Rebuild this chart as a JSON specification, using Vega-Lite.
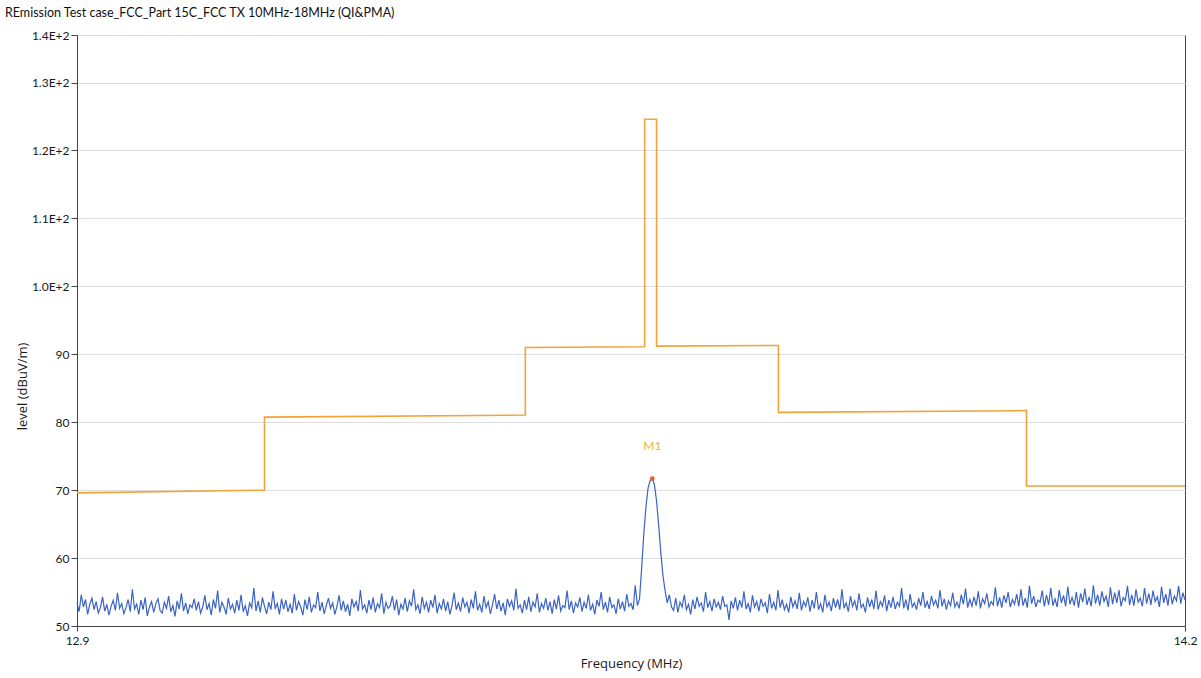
{
  "$schema": "https://vega.github.io/schema/vega-lite/v6.json",
  "width": 1108,
  "height": 591,
  "autosize": "none",
  "padding": {"left": 77, "top": 35, "right": 16, "bottom": 52},
  "background": "white",
  "config": {
    "font": "Lato",
    "view": {"stroke": "#444", "strokeWidth": 1},
    "axis": {"labelFont": "Lato", "labelFontSize": 12, "labelColor": "#1a1a1a", "titleFont": "Open Sans", "titleFontSize": 13, "titleFontWeight": "normal", "titleColor": "#1a1a1a", "domainColor": "#444", "tickColor": "#444"}
  },
  "title": {"text": "REmission Test case_FCC_Part 15C_FCC TX 10MHz-18MHz (QI&PMA)", "anchor": "start", "frame": "group", "dx": -72, "offset": 10, "font": "Lato", "fontSize": 12.5, "fontWeight": "normal", "color": "#111"},
  "datasets": {
    "limit": [
      {"i": 0, "f": 12.9, "v": 69.6},
      {"i": 1, "f": 13.12, "v": 70.0},
      {"i": 2, "f": 13.12, "v": 80.75},
      {"i": 3, "f": 13.426, "v": 81.05},
      {"i": 4, "f": 13.426, "v": 91.0},
      {"i": 5, "f": 13.566, "v": 91.1},
      {"i": 6, "f": 13.566, "v": 124.6},
      {"i": 7, "f": 13.58, "v": 124.6},
      {"i": 8, "f": 13.58, "v": 91.2},
      {"i": 9, "f": 13.723, "v": 91.3},
      {"i": 10, "f": 13.723, "v": 81.45},
      {"i": 11, "f": 14.014, "v": 81.7},
      {"i": 12, "f": 14.014, "v": 70.6},
      {"i": 13, "f": 14.2, "v": 70.6}
    ],
    "marker": [{"f": 13.575, "v": 71.7, "t": "M1"}],
    "trace": [
{"f":12.9,"v":53.4},{"f":12.9025,"v":52.1},{"f":12.905,"v":54.6},{"f":12.9075,"v":52.8},{"f":12.91,"v":53.9},{"f":12.9125,"v":51.7},{"f":12.915,"v":53.2},{"f":12.9175,"v":54.1},{"f":12.92,"v":52.4},{"f":12.9225,"v":53.6},{"f":12.925,"v":51.9},{"f":12.9275,"v":52.7},{"f":12.93,"v":54.3},{"f":12.9325,"v":52.2},{"f":12.935,"v":53.1},{"f":12.9375,"v":51.6},{"f":12.94,"v":52.9},{"f":12.9425,"v":53.8},{"f":12.945,"v":52.3},{"f":12.9475,"v":54.9},
{"f":12.95,"v":52.6},{"f":12.9525,"v":53.3},{"f":12.955,"v":51.8},{"f":12.9575,"v":52.7},{"f":12.96,"v":53.9},{"f":12.9625,"v":52.1},{"f":12.965,"v":55.4},{"f":12.9675,"v":52.5},{"f":12.97,"v":53.2},{"f":12.9725,"v":51.7},{"f":12.975,"v":53.8},{"f":12.9775,"v":52.4},{"f":12.98,"v":54.2},{"f":12.9825,"v":51.5},{"f":12.985,"v":52.8},{"f":12.9875,"v":53.6},{"f":12.99,"v":52.0},{"f":12.9925,"v":53.3},{"f":12.995,"v":54.0},{"f":12.9975,"v":52.3},
{"f":13.0,"v":51.9},{"f":13.0025,"v":53.5},{"f":13.005,"v":52.6},{"f":13.0075,"v":54.4},{"f":13.01,"v":52.1},{"f":13.0125,"v":53.0},{"f":13.015,"v":51.4},{"f":13.0175,"v":53.7},{"f":13.02,"v":52.5},{"f":13.0225,"v":54.8},{"f":13.025,"v":52.2},{"f":13.0275,"v":53.4},{"f":13.03,"v":51.8},{"f":13.0325,"v":53.1},{"f":13.035,"v":52.7},{"f":13.0375,"v":54.0},{"f":13.04,"v":52.3},{"f":13.0425,"v":53.6},{"f":13.045,"v":51.9},{"f":13.0475,"v":52.8},
{"f":13.05,"v":54.5},{"f":13.0525,"v":52.4},{"f":13.055,"v":53.3},{"f":13.0575,"v":51.6},{"f":13.06,"v":53.9},{"f":13.0625,"v":52.6},{"f":13.065,"v":55.2},{"f":13.0675,"v":52.0},{"f":13.07,"v":53.5},{"f":13.0725,"v":52.8},{"f":13.075,"v":51.7},{"f":13.0775,"v":54.1},{"f":13.08,"v":52.5},{"f":13.0825,"v":53.2},{"f":13.085,"v":51.9},{"f":13.0875,"v":53.8},{"f":13.09,"v":52.3},{"f":13.0925,"v":54.6},{"f":13.095,"v":52.1},{"f":13.0975,"v":53.0},
{"f":13.1,"v":51.5},{"f":13.1025,"v":53.4},{"f":13.105,"v":52.7},{"f":13.1075,"v":55.6},{"f":13.11,"v":52.2},{"f":13.1125,"v":53.7},{"f":13.115,"v":52.0},{"f":13.1175,"v":54.2},{"f":13.12,"v":52.9},{"f":13.1225,"v":51.8},{"f":13.125,"v":53.5},{"f":13.1275,"v":52.4},{"f":13.13,"v":55.1},{"f":13.1325,"v":52.6},{"f":13.135,"v":53.3},{"f":13.1375,"v":51.7},{"f":13.14,"v":54.0},{"f":13.1425,"v":52.5},{"f":13.145,"v":53.8},{"f":13.1475,"v":52.1},
{"f":13.15,"v":53.2},{"f":13.1525,"v":51.9},{"f":13.155,"v":54.7},{"f":13.1575,"v":52.3},{"f":13.16,"v":53.6},{"f":13.1625,"v":52.8},{"f":13.165,"v":51.6},{"f":13.1675,"v":53.9},{"f":13.17,"v":52.4},{"f":13.1725,"v":54.3},{"f":13.175,"v":52.0},{"f":13.1775,"v":53.1},{"f":13.18,"v":52.7},{"f":13.1825,"v":55.0},{"f":13.185,"v":52.2},{"f":13.1875,"v":53.5},{"f":13.19,"v":51.8},{"f":13.1925,"v":53.0},{"f":13.195,"v":54.1},{"f":13.1975,"v":52.6},
{"f":13.2,"v":53.4},{"f":13.2025,"v":51.7},{"f":13.205,"v":52.9},{"f":13.2075,"v":54.5},{"f":13.21,"v":52.3},{"f":13.2125,"v":53.7},{"f":13.215,"v":52.1},{"f":13.2175,"v":53.2},{"f":13.22,"v":51.5},{"f":13.2225,"v":54.0},{"f":13.225,"v":52.8},{"f":13.2275,"v":53.6},{"f":13.23,"v":52.2},{"f":13.2325,"v":55.3},{"f":13.235,"v":52.5},{"f":13.2375,"v":53.1},{"f":13.24,"v":51.9},{"f":13.2425,"v":53.8},{"f":13.245,"v":52.4},{"f":13.2475,"v":54.2},
{"f":13.25,"v":52.0},{"f":13.2525,"v":53.3},{"f":13.255,"v":52.7},{"f":13.2575,"v":54.8},{"f":13.26,"v":51.8},{"f":13.2625,"v":53.5},{"f":13.265,"v":52.6},{"f":13.2675,"v":53.0},{"f":13.27,"v":54.4},{"f":13.2725,"v":52.3},{"f":13.275,"v":53.9},{"f":13.2775,"v":51.6},{"f":13.28,"v":53.2},{"f":13.2825,"v":52.5},{"f":13.285,"v":54.1},{"f":13.2875,"v":52.1},{"f":13.29,"v":53.7},{"f":13.2925,"v":52.9},{"f":13.295,"v":55.4},{"f":13.2975,"v":52.4},
{"f":13.3,"v":53.1},{"f":13.3025,"v":51.8},{"f":13.305,"v":54.3},{"f":13.3075,"v":52.6},{"f":13.31,"v":53.5},{"f":13.3125,"v":52.0},{"f":13.315,"v":53.8},{"f":13.3175,"v":52.7},{"f":13.32,"v":54.6},{"f":13.3225,"v":51.9},{"f":13.325,"v":53.3},{"f":13.3275,"v":52.5},{"f":13.33,"v":54.0},{"f":13.3325,"v":52.2},{"f":13.335,"v":53.6},{"f":13.3375,"v":51.7},{"f":13.34,"v":53.0},{"f":13.3425,"v":54.9},{"f":13.345,"v":52.4},{"f":13.3475,"v":53.4},
{"f":13.35,"v":52.1},{"f":13.3525,"v":54.2},{"f":13.355,"v":52.8},{"f":13.3575,"v":53.5},{"f":13.36,"v":51.9},{"f":13.3625,"v":53.9},{"f":13.365,"v":52.6},{"f":13.3675,"v":55.1},{"f":13.37,"v":52.3},{"f":13.3725,"v":53.2},{"f":13.375,"v":52.0},{"f":13.3775,"v":54.4},{"f":13.38,"v":52.7},{"f":13.3825,"v":53.6},{"f":13.385,"v":51.8},{"f":13.3875,"v":53.1},{"f":13.39,"v":54.7},{"f":13.3925,"v":52.5},{"f":13.395,"v":53.8},{"f":13.3975,"v":52.2},
{"f":13.4,"v":53.4},{"f":13.4025,"v":51.6},{"f":13.405,"v":54.0},{"f":13.4075,"v":52.9},{"f":13.41,"v":53.7},{"f":13.4125,"v":52.3},{"f":13.415,"v":55.5},{"f":13.4175,"v":52.6},{"f":13.42,"v":53.1},{"f":13.4225,"v":51.9},{"f":13.425,"v":53.8},{"f":13.4275,"v":52.4},{"f":13.43,"v":54.3},{"f":13.4325,"v":52.1},{"f":13.435,"v":53.5},{"f":13.4375,"v":52.8},{"f":13.44,"v":54.8},{"f":13.4425,"v":52.0},{"f":13.445,"v":53.3},{"f":13.4475,"v":52.6},
{"f":13.45,"v":54.1},{"f":13.4525,"v":52.3},{"f":13.455,"v":53.6},{"f":13.4575,"v":51.8},{"f":13.46,"v":53.9},{"f":13.4625,"v":52.5},{"f":13.465,"v":54.5},{"f":13.4675,"v":52.2},{"f":13.47,"v":53.0},{"f":13.4725,"v":52.7},{"f":13.475,"v":55.2},{"f":13.4775,"v":52.4},{"f":13.48,"v":53.7},{"f":13.4825,"v":51.9},{"f":13.485,"v":53.4},{"f":13.4875,"v":52.8},{"f":13.49,"v":54.2},{"f":13.4925,"v":52.1},{"f":13.495,"v":53.5},{"f":13.4975,"v":52.6},
{"f":13.5,"v":54.6},{"f":13.5025,"v":52.3},{"f":13.505,"v":53.2},{"f":13.5075,"v":51.7},{"f":13.51,"v":53.8},{"f":13.5125,"v":52.9},{"f":13.515,"v":55.0},{"f":13.5175,"v":52.4},{"f":13.52,"v":53.5},{"f":13.5225,"v":52.0},{"f":13.525,"v":54.3},{"f":13.5275,"v":52.7},{"f":13.53,"v":53.1},{"f":13.5325,"v":51.8},{"f":13.535,"v":54.0},{"f":13.5375,"v":52.5},{"f":13.54,"v":53.6},{"f":13.5425,"v":52.2},{"f":13.545,"v":54.7},{"f":13.5475,"v":52.9},
{"f":13.55,"v":53.3},{"f":13.5525,"v":52.4},{"f":13.555,"v":56.0},{"f":13.5575,"v":53.0},{"f":13.56,"v":54.0},{"f":13.5625,"v":58.5},{"f":13.565,"v":63.5},{"f":13.5675,"v":67.5},{"f":13.57,"v":70.3},{"f":13.5725,"v":71.4},{"f":13.575,"v":71.7},{"f":13.5775,"v":70.8},{"f":13.58,"v":68.4},{"f":13.5825,"v":64.8},{"f":13.585,"v":60.8},{"f":13.5875,"v":57.4},{"f":13.59,"v":55.2},{"f":13.5925,"v":53.4},
{"f":13.595,"v":54.6},{"f":13.5975,"v":52.8},{"f":13.6,"v":52.3},{"f":13.6025,"v":54.1},{"f":13.605,"v":52.0},{"f":13.6075,"v":53.5},{"f":13.61,"v":52.8},{"f":13.6125,"v":54.6},{"f":13.615,"v":52.4},{"f":13.6175,"v":53.2},{"f":13.62,"v":51.7},{"f":13.6225,"v":53.9},{"f":13.625,"v":52.5},{"f":13.6275,"v":54.3},{"f":13.63,"v":52.9},{"f":13.6325,"v":53.4},{"f":13.635,"v":52.1},{"f":13.6375,"v":55.0},{"f":13.64,"v":52.7},{"f":13.6425,"v":53.6},{"f":13.645,"v":52.2},{"f":13.6475,"v":54.0},
{"f":13.65,"v":52.8},{"f":13.6525,"v":53.5},{"f":13.655,"v":52.4},{"f":13.6575,"v":54.4},{"f":13.66,"v":52.9},{"f":13.6625,"v":53.1},{"f":13.665,"v":50.9},{"f":13.6675,"v":53.7},{"f":13.67,"v":52.6},{"f":13.6725,"v":54.2},{"f":13.675,"v":52.3},{"f":13.6775,"v":53.8},{"f":13.68,"v":52.7},{"f":13.6825,"v":55.1},{"f":13.685,"v":52.5},{"f":13.6875,"v":53.3},{"f":13.69,"v":52.0},{"f":13.6925,"v":54.5},{"f":13.695,"v":52.8},{"f":13.6975,"v":53.6},
{"f":13.7,"v":52.2},{"f":13.7025,"v":54.0},{"f":13.705,"v":52.9},{"f":13.7075,"v":53.4},{"f":13.71,"v":51.9},{"f":13.7125,"v":54.7},{"f":13.715,"v":52.6},{"f":13.7175,"v":53.5},{"f":13.72,"v":52.3},{"f":13.7225,"v":55.3},{"f":13.725,"v":52.7},{"f":13.7275,"v":53.9},{"f":13.73,"v":52.4},{"f":13.7325,"v":53.2},{"f":13.735,"v":52.0},{"f":13.7375,"v":54.3},{"f":13.74,"v":52.8},{"f":13.7425,"v":53.7},{"f":13.745,"v":52.5},{"f":13.7475,"v":54.9},
{"f":13.75,"v":52.3},{"f":13.7525,"v":53.6},{"f":13.755,"v":52.9},{"f":13.7575,"v":54.2},{"f":13.76,"v":52.1},{"f":13.7625,"v":53.8},{"f":13.765,"v":52.6},{"f":13.7675,"v":55.0},{"f":13.77,"v":52.4},{"f":13.7725,"v":53.3},{"f":13.775,"v":52.0},{"f":13.7775,"v":54.6},{"f":13.78,"v":52.8},{"f":13.7825,"v":53.5},{"f":13.785,"v":52.2},{"f":13.7875,"v":54.1},{"f":13.79,"v":52.7},{"f":13.7925,"v":53.9},{"f":13.795,"v":52.4},{"f":13.7975,"v":55.4},
{"f":13.8,"v":52.6},{"f":13.8025,"v":53.4},{"f":13.805,"v":52.1},{"f":13.8075,"v":54.4},{"f":13.81,"v":52.9},{"f":13.8125,"v":53.7},{"f":13.815,"v":52.3},{"f":13.8175,"v":54.8},{"f":13.82,"v":52.7},{"f":13.8225,"v":53.2},{"f":13.825,"v":52.0},{"f":13.8275,"v":54.2},{"f":13.83,"v":52.8},{"f":13.8325,"v":53.9},{"f":13.835,"v":52.5},{"f":13.8375,"v":55.2},{"f":13.84,"v":52.4},{"f":13.8425,"v":53.6},{"f":13.845,"v":52.9},{"f":13.8475,"v":54.5},
{"f":13.85,"v":52.2},{"f":13.8525,"v":53.8},{"f":13.855,"v":52.7},{"f":13.8575,"v":54.3},{"f":13.86,"v":52.5},{"f":13.8625,"v":53.5},{"f":13.865,"v":52.9},{"f":13.8675,"v":55.6},{"f":13.87,"v":52.6},{"f":13.8725,"v":53.9},{"f":13.875,"v":52.3},{"f":13.8775,"v":54.7},{"f":13.88,"v":52.8},{"f":13.8825,"v":53.4},{"f":13.885,"v":52.4},{"f":13.8875,"v":54.1},{"f":13.89,"v":53.0},{"f":13.8925,"v":55.0},{"f":13.895,"v":52.7},{"f":13.8975,"v":53.6},
{"f":13.9,"v":52.5},{"f":13.9025,"v":54.4},{"f":13.905,"v":53.1},{"f":13.9075,"v":53.8},{"f":13.91,"v":52.6},{"f":13.9125,"v":55.3},{"f":13.915,"v":52.9},{"f":13.9175,"v":54.0},{"f":13.92,"v":52.4},{"f":13.9225,"v":53.7},{"f":13.925,"v":53.0},{"f":13.9275,"v":54.9},{"f":13.93,"v":52.8},{"f":13.9325,"v":53.5},{"f":13.935,"v":52.6},{"f":13.9375,"v":54.6},{"f":13.94,"v":53.2},{"f":13.9425,"v":55.5},{"f":13.945,"v":52.7},{"f":13.9475,"v":53.9},
{"f":13.95,"v":52.9},{"f":13.9525,"v":54.3},{"f":13.955,"v":53.0},{"f":13.9575,"v":55.1},{"f":13.96,"v":52.6},{"f":13.9625,"v":54.0},{"f":13.965,"v":53.3},{"f":13.9675,"v":54.8},{"f":13.97,"v":52.8},{"f":13.9725,"v":53.6},{"f":13.975,"v":53.1},{"f":13.9775,"v":55.7},{"f":13.98,"v":52.9},{"f":13.9825,"v":54.2},{"f":13.985,"v":52.7},{"f":13.9875,"v":54.5},{"f":13.99,"v":53.4},{"f":13.9925,"v":55.0},{"f":13.995,"v":52.8},{"f":13.9975,"v":53.9},
{"f":14.0,"v":53.2},{"f":14.0025,"v":54.7},{"f":14.005,"v":52.9},{"f":14.0075,"v":55.4},{"f":14.01,"v":53.0},{"f":14.0125,"v":54.1},{"f":14.015,"v":52.7},{"f":14.0175,"v":55.9},{"f":14.02,"v":53.3},{"f":14.0225,"v":54.4},{"f":14.025,"v":52.8},{"f":14.0275,"v":53.8},{"f":14.03,"v":53.5},{"f":14.0325,"v":55.2},{"f":14.035,"v":52.9},{"f":14.0375,"v":54.6},{"f":14.04,"v":53.1},{"f":14.0425,"v":55.6},{"f":14.045,"v":53.0},{"f":14.0475,"v":54.0},
{"f":14.05,"v":52.8},{"f":14.0525,"v":55.3},{"f":14.055,"v":53.4},{"f":14.0575,"v":54.5},{"f":14.06,"v":52.9},{"f":14.0625,"v":55.8},{"f":14.065,"v":53.2},{"f":14.0675,"v":54.2},{"f":14.07,"v":53.0},{"f":14.0725,"v":55.0},{"f":14.075,"v":52.7},{"f":14.0775,"v":54.8},{"f":14.08,"v":53.5},{"f":14.0825,"v":55.5},{"f":14.085,"v":53.1},{"f":14.0875,"v":54.3},{"f":14.09,"v":52.9},{"f":14.0925,"v":56.0},{"f":14.095,"v":53.3},{"f":14.0975,"v":54.6},
{"f":14.1,"v":53.0},{"f":14.1025,"v":55.1},{"f":14.105,"v":53.6},{"f":14.1075,"v":54.4},{"f":14.11,"v":52.8},{"f":14.1125,"v":55.7},{"f":14.115,"v":53.2},{"f":14.1175,"v":54.9},{"f":14.12,"v":53.4},{"f":14.1225,"v":55.3},{"f":14.125,"v":52.9},{"f":14.1275,"v":54.2},{"f":14.13,"v":53.7},{"f":14.1325,"v":55.9},{"f":14.135,"v":53.1},{"f":14.1375,"v":54.6},{"f":14.14,"v":53.0},{"f":14.1425,"v":55.4},{"f":14.145,"v":53.5},{"f":14.1475,"v":54.1},
{"f":14.15,"v":52.9},{"f":14.1525,"v":55.6},{"f":14.155,"v":53.3},{"f":14.1575,"v":54.8},{"f":14.16,"v":53.1},{"f":14.1625,"v":55.2},{"f":14.165,"v":53.6},{"f":14.1675,"v":54.3},{"f":14.17,"v":52.8},{"f":14.1725,"v":55.8},{"f":14.175,"v":53.4},{"f":14.1775,"v":54.7},{"f":14.18,"v":53.0},{"f":14.1825,"v":55.5},{"f":14.185,"v":53.2},{"f":14.1875,"v":54.4},{"f":14.19,"v":53.7},{"f":14.1925,"v":55.9},{"f":14.195,"v":53.3},{"f":14.1975,"v":54.9},{"f":14.2,"v":53.8}
    ]
  },
  "encoding": {
    "x": {"field": "f", "type": "quantitative", "scale": {"domain": [12.9, 14.2], "nice": false, "zero": false},
      "axis": {"title": "Frequency (MHz)", "values": [12.9, 14.2], "format": ".1f", "grid": false, "tickSize": 5, "labelPadding": 4, "labelFlush": false, "titleY": 37, "titleBaseline": "middle"}},
    "y": {"field": "v", "type": "quantitative", "scale": {"domain": [50, 137], "nice": false, "zero": false},
      "axis": {"title": "level (dBuV/m)", "values": [50, 60, 70, 80, 90, 100, 110, 120, 130, 137], "labelExpr": "datum.value >= 100 ? format(datum.value / 100, '.1f') + 'E+2' : format(datum.value, 'd')", "grid": true, "gridColor": "#dedede", "gridWidth": 1, "tickSize": 6, "labelPadding": 2, "titleAngle": -90, "titleX": -55, "titleY": 351, "titleAlign": "center", "titleBaseline": "middle"}}
  },
  "layer": [
    {"data": {"name": "trace"}, "mark": {"type": "line", "color": "#3b63c4", "strokeWidth": 1.2, "interpolate": "linear"}},
    {"data": {"name": "limit"}, "mark": {"type": "line", "color": "#f2a33a", "strokeWidth": 1.6}, "encoding": {"order": {"field": "i", "type": "quantitative"}}},
    {"data": {"name": "marker"}, "mark": {"type": "point", "filled": true, "color": "#e4603a", "size": 22, "opacity": 1}},
    {"data": {"name": "marker"}, "mark": {"type": "text", "color": "#e8b440", "fontSize": 12, "font": "Lato", "dy": -33}, "encoding": {"text": {"field": "t"}}}
  ]
}
